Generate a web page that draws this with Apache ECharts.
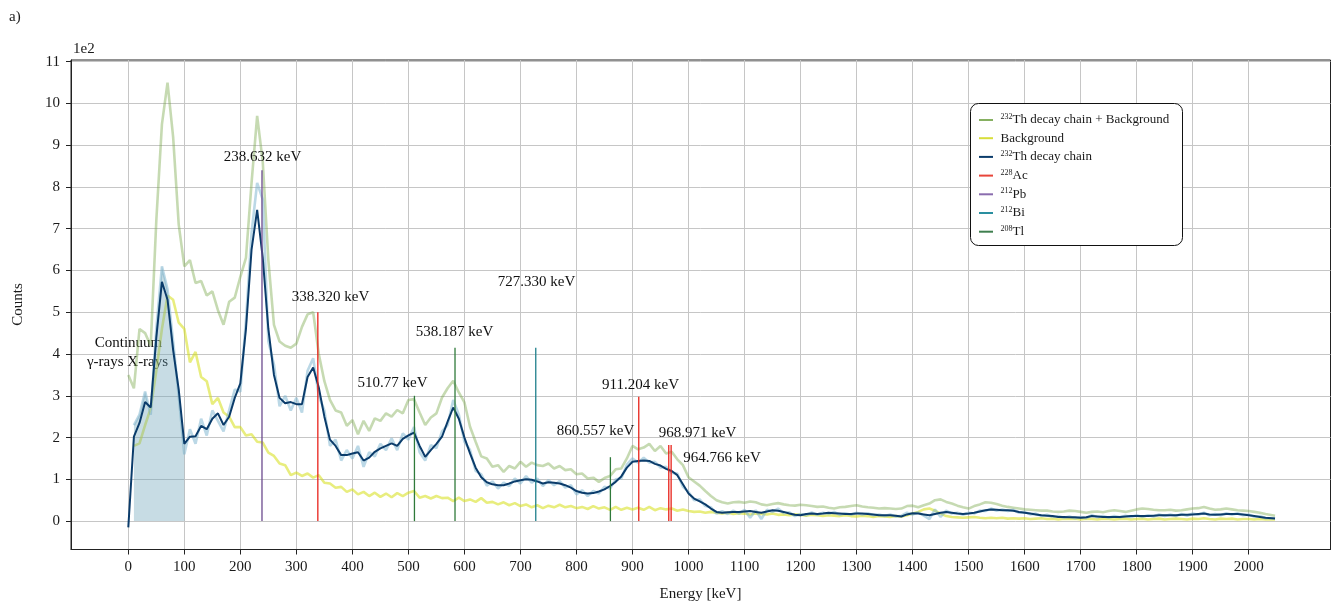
<!DOCTYPE html>
<html>
<head>
<meta charset="utf-8">
<title>232Th gamma spectrum</title>
<script src="https://cdn.jsdelivr.net/npm/echarts@6/dist/echarts.min.js"></script>
<style>
  html, body { margin: 0; padding: 0; background: #fff; }
  #chart { width: 1334px; height: 606px; }
</style>
</head>
<body>
<div id="chart"></div>
<script>
// Energy bins [keV]
const energy = [
  0, 10, 20, 30, 40, 50, 60, 70, 80, 90,
  100, 110, 120, 130, 140, 150, 160, 170, 180, 190,
  200, 210, 220, 230, 240, 250, 260, 270, 280, 290,
  300, 310, 320, 330, 340, 350, 360, 370, 380, 390,
  400, 410, 420, 430, 440, 450, 460, 470, 480, 490,
  500, 510, 520, 530, 540, 550, 560, 570, 580, 590,
  600, 610, 620, 630, 640, 650, 660, 670, 680, 690,
  700, 710, 720, 730, 740, 750, 760, 770, 780, 790,
  800, 810, 820, 830, 840, 850, 860, 870, 880, 890,
  900, 910, 920, 930, 940, 950, 960, 970, 980, 990,
  1000, 1010, 1020, 1030, 1040, 1050, 1060, 1070, 1080, 1090,
  1100, 1110, 1120, 1130, 1140, 1150, 1160, 1170, 1180, 1190,
  1200, 1210, 1220, 1230, 1240, 1250, 1260, 1270, 1280, 1290,
  1300, 1310, 1320, 1330, 1340, 1350, 1360, 1370, 1380, 1390,
  1400, 1410, 1420, 1430, 1440, 1450, 1460, 1470, 1480, 1490,
  1500, 1510, 1520, 1530, 1540, 1550, 1560, 1570, 1580, 1590,
  1600, 1610, 1620, 1630, 1640, 1650, 1660, 1670, 1680, 1690,
  1700, 1710, 1720, 1730, 1740, 1750, 1760, 1770, 1780, 1790,
  1800, 1810, 1820, 1830, 1840, 1850, 1860, 1870, 1880, 1890,
  1900, 1910, 1920, 1930, 1940, 1950, 1960, 1970, 1980, 1990,
  2000, 2010, 2020, 2030, 2047
];

// Counts (x100) — 232Th decay chain measured together with the background
const thPlusBackground = [
  3.50, 3.18, 4.60, 4.50, 4.20, 7.20, 9.50, 10.50, 9.20, 7.10,
  6.10, 6.25, 5.70, 5.75, 5.40, 5.50, 5.05, 4.70, 5.25, 5.35,
  5.85, 6.30, 8.10, 9.70, 8.60, 6.25, 4.70, 4.30, 4.20, 4.15,
  4.25, 4.65, 4.95, 5.00, 4.00, 3.35, 2.90, 2.65, 2.60, 2.28,
  2.42, 2.08, 2.40, 2.16, 2.46, 2.40, 2.58, 2.50, 2.66, 2.58,
  2.90, 2.92, 2.60, 2.30, 2.48, 2.58, 2.96, 3.18, 3.36, 3.08,
  2.84, 2.26, 1.90, 1.55, 1.50, 1.30, 1.34, 1.18, 1.32, 1.26,
  1.42, 1.30, 1.40, 1.34, 1.32, 1.38, 1.26, 1.32, 1.22, 1.24,
  1.12, 1.14, 1.02, 1.04, 0.94, 1.03, 1.08, 1.24, 1.26, 1.50,
  1.80, 1.72, 1.76, 1.85, 1.68, 1.80, 1.62, 1.66, 1.48, 1.34,
  1.05, 0.95, 0.85, 0.72, 0.60, 0.50, 0.45, 0.42, 0.45, 0.46,
  0.44, 0.47, 0.45, 0.40, 0.38, 0.41, 0.43, 0.40, 0.38, 0.37,
  0.39, 0.38, 0.36, 0.34, 0.35, 0.32, 0.30, 0.33, 0.34, 0.36,
  0.38, 0.35, 0.33, 0.32, 0.30, 0.31, 0.30, 0.29, 0.30, 0.36,
  0.37, 0.33, 0.38, 0.42, 0.50, 0.52, 0.46, 0.42, 0.37, 0.33,
  0.30, 0.36, 0.40, 0.45, 0.44, 0.41, 0.37, 0.34, 0.32, 0.30,
  0.28, 0.27, 0.26, 0.25, 0.25, 0.23, 0.22, 0.23, 0.25, 0.24,
  0.22, 0.20, 0.22, 0.23, 0.21, 0.24, 0.26, 0.24, 0.22, 0.25,
  0.28, 0.30, 0.29, 0.27, 0.26, 0.26, 0.27, 0.25, 0.26, 0.28,
  0.30, 0.31, 0.34, 0.30, 0.27, 0.28, 0.30, 0.28, 0.26, 0.25,
  0.24, 0.22, 0.20, 0.17, 0.13
];

// Counts (x100) — background only
const background = [
  null, 1.80, 1.86, 2.30, 2.70, 3.60, 4.60, 5.40, 5.30, 4.75,
  4.60, 3.80, 4.05, 3.45, 3.35, 2.80, 2.95, 2.60, 2.50, 2.25,
  2.25, 2.05, 2.08, 1.90, 1.88, 1.64, 1.56, 1.38, 1.34, 1.10,
  1.16, 1.08, 1.14, 1.04, 1.10, 0.92, 0.90, 0.80, 0.82, 0.70,
  0.76, 0.64, 0.70, 0.60, 0.68, 0.58, 0.66, 0.57, 0.67, 0.60,
  0.68, 0.72, 0.56, 0.60, 0.54, 0.60, 0.55, 0.56, 0.48, 0.56,
  0.48, 0.52, 0.46, 0.55, 0.44, 0.46, 0.40, 0.45, 0.38, 0.43,
  0.36, 0.40, 0.33, 0.38, 0.31, 0.37, 0.33, 0.39, 0.33, 0.36,
  0.31, 0.34, 0.29, 0.36, 0.30, 0.33, 0.27, 0.34, 0.27, 0.32,
  0.28, 0.32, 0.27, 0.34, 0.26, 0.31, 0.28, 0.30, 0.25, 0.28,
  0.24, 0.22, 0.23, 0.20, 0.22, 0.20, 0.18, 0.20, 0.17, 0.19,
  0.18, 0.16, 0.18, 0.17, 0.16, 0.18, 0.15, 0.16, 0.14, 0.16,
  0.15, 0.13, 0.15, 0.14, 0.12, 0.14, 0.13, 0.12, 0.14, 0.12,
  0.11, 0.13, 0.12, 0.10, 0.12, 0.11, 0.10, 0.12, 0.11, 0.14,
  0.18, 0.22, 0.28, 0.30, 0.25, 0.18, 0.12, 0.10, 0.09, 0.08,
  0.09, 0.10, 0.08, 0.07, 0.08, 0.07, 0.08, 0.06, 0.07, 0.06,
  0.07, 0.05, 0.06, 0.07, 0.05, 0.06, 0.04, 0.06, 0.05, 0.06,
  0.04, 0.06, 0.05, 0.04, 0.06, 0.05, 0.04, 0.05, 0.06, 0.04,
  0.05, 0.06, 0.04, 0.05, 0.06, 0.04, 0.05, 0.06, 0.05, 0.04,
  0.06, 0.05, 0.07, 0.05, 0.04, 0.06, 0.05, 0.06, 0.04, 0.05,
  0.05, 0.04, 0.05, 0.04, 0.04
];

// Counts (x100) — 232Th decay chain after background subtraction
const thDecayRaw = [
  null, 2.30, 2.55, 3.10, 2.55, 4.60, 6.10, 5.55, 4.30, 3.00,
  1.60, 2.20, 1.85, 2.45, 2.05, 2.65, 2.40, 2.15, 2.65, 3.15,
  3.10, 4.80, 6.90, 8.10, 7.70, 4.30, 3.75, 2.75, 3.00, 2.65,
  2.95, 2.60, 3.60, 3.90, 3.00, 2.65, 1.80, 1.95, 1.45, 1.70,
  1.50, 1.80, 1.30, 1.65, 1.55, 1.85, 1.70, 1.98, 1.70, 2.10,
  1.95, 2.25, 1.65, 1.45, 1.82, 1.75, 2.15, 2.30, 2.90, 2.55,
  1.90, 1.70, 1.20, 1.12, 0.85, 0.95, 0.78, 0.92, 0.84, 1.02,
  0.90, 1.08, 0.92, 1.02, 0.84, 0.98, 0.86, 0.96, 0.80, 0.86,
  0.64, 0.74, 0.60, 0.72, 0.66, 0.82, 0.78, 1.00, 1.02, 1.35,
  1.50, 1.40, 1.52, 1.40, 1.42, 1.28, 1.30, 1.15, 1.14, 0.82,
  0.70, 0.50, 0.52, 0.36, 0.33, 0.18, 0.24, 0.17, 0.25, 0.18,
  0.27, 0.08, 0.26, 0.05, 0.27, 0.22, 0.30, 0.19, 0.21, 0.12,
  0.17, 0.14, 0.21, 0.15, 0.20, 0.17, 0.22, 0.15, 0.19, 0.15,
  0.20, 0.16, 0.19, 0.14, 0.16, 0.12, 0.16, 0.11, 0.13, 0.20,
  0.16, 0.21, 0.13, 0.05, 0.28, 0.10, 0.25, 0.18, 0.20, 0.15,
  0.20, 0.18, 0.25, 0.24, 0.30, 0.25, 0.28, 0.24, 0.27, 0.20,
  0.22, 0.16, 0.18, 0.12, 0.15, 0.10, 0.12, 0.08, 0.11, 0.07,
  0.10, 0.07, 0.14, 0.09, 0.12, 0.08, 0.12, 0.09, 0.13, 0.10,
  0.14, 0.10, 0.14, 0.11, 0.16, 0.12, 0.16, 0.12, 0.17, 0.13,
  0.18, 0.15, 0.20, 0.14, 0.17, 0.14, 0.19, 0.15, 0.19, 0.14,
  0.16, 0.10, 0.12, 0.07, 0.07
];

// Counts (x100) — smoothed 232Th decay chain
const thDecaySmooth = [
  -0.15, 2.02, 2.35, 2.85, 2.72, 4.40, 5.73, 5.30, 4.10, 3.15,
  1.85, 2.02, 2.03, 2.28, 2.20, 2.45, 2.58, 2.30, 2.50, 2.95,
  3.30, 4.60, 6.50, 7.45, 6.30, 4.60, 3.50, 2.95, 2.82, 2.85,
  2.80, 2.80, 3.45, 3.68, 3.20, 2.50, 1.95, 1.80, 1.58, 1.58,
  1.62, 1.65, 1.45, 1.52, 1.66, 1.74, 1.80, 1.86, 1.80, 1.97,
  2.05, 2.12, 1.80, 1.54, 1.70, 1.85, 2.02, 2.38, 2.72, 2.45,
  2.00, 1.62, 1.28, 1.05, 0.93, 0.88, 0.86, 0.86, 0.90, 0.95,
  0.98, 1.00, 0.99, 0.95, 0.90, 0.93, 0.92, 0.90, 0.86, 0.80,
  0.72, 0.68, 0.66, 0.67, 0.71, 0.76, 0.84, 0.94, 1.07, 1.28,
  1.42, 1.44, 1.45, 1.44, 1.37, 1.33, 1.25, 1.20, 1.10, 0.88,
  0.66, 0.54, 0.47, 0.40, 0.30, 0.22, 0.20, 0.21, 0.22, 0.22,
  0.23, 0.24, 0.22, 0.20, 0.23, 0.26, 0.25, 0.22, 0.18, 0.15,
  0.14, 0.17, 0.18, 0.17, 0.18, 0.20, 0.19, 0.18, 0.17, 0.17,
  0.18, 0.18, 0.17, 0.16, 0.14, 0.14, 0.14, 0.13, 0.11, 0.16,
  0.19, 0.18, 0.16, 0.14, 0.17, 0.20, 0.22, 0.20, 0.18, 0.17,
  0.18, 0.20, 0.23, 0.26, 0.28, 0.27, 0.26, 0.26, 0.25, 0.22,
  0.20, 0.18, 0.16, 0.14, 0.13, 0.12, 0.10, 0.10, 0.09, 0.09,
  0.08, 0.09, 0.12, 0.11, 0.10, 0.10, 0.10, 0.10, 0.11, 0.12,
  0.12, 0.12, 0.12, 0.13, 0.14, 0.14, 0.14, 0.14, 0.15, 0.15,
  0.16, 0.17, 0.18, 0.16, 0.15, 0.16, 0.17, 0.17, 0.17, 0.16,
  0.14, 0.12, 0.10, 0.08, 0.06
];

// Continuum region (keV) shaded under the decay-chain spectrum
const continuumRange = [10, 100];

// Reference gamma lines
const lineEnergy  = [238.632, 338.320, 510.77, 583.187, 727.330, 860.557, 911.204, 964.766, 968.971];
const lineHeight  = [8.40, 5.00, 3.00, 4.15, 4.15, 1.53, 2.98, 1.82, 1.82];
const lineIsotope = ['212Pb', '228Ac', '208Tl', '208Tl', '212Bi', '208Tl', '228Ac', '228Ac', '228Ac'];

// Annotation texts and their anchor points [keV, counts x100]
const noteText = ['238.632 keV', '338.320 keV', '510.77 keV', '538.187 keV', '727.330 keV',
                  '860.557 keV', '911.204 keV', '968.971 keV', '964.766 keV'];
const noteE    = [239.6, 360.9, 471.6, 582.3, 728.7, 834.0, 914.3, 1016.0, 1059.8];
const noteV    = [8.71, 5.36, 3.30, 4.52, 5.72, 2.15, 3.26, 2.11, 1.51];
const regionText = ['Continuum', 'γ-rays X-rays'];
const regionE    = [0.4, -1.4];
const regionV    = [4.26, 3.81];

// Axis ticks
const xTicks = [0, 100, 200, 300, 400, 500, 600, 700, 800, 900, 1000,
                1100, 1200, 1300, 1400, 1500, 1600, 1700, 1800, 1900, 2000];
const yTicks = [0, 1, 2, 3, 4, 5, 6, 7, 8, 9, 10, 11];

// ---------------------------------------------------------------------------
const FONT = 'Liberation Serif';
const TEXT = '#1a1a1a';

const NAME_SUM = '232Th decay chain + Background';
const NAME_BG = 'Background';
const NAME_TH = '232Th decay chain';
const isotopeColor = { '228Ac': '#e8231b', '212Pb': '#6b4a8e', '212Bi': '#1f7f8c', '208Tl': '#2f7a3a' };
const legendColor = {
  [NAME_SUM]: '#86b061', [NAME_BG]: '#d8de3a', [NAME_TH]: '#0b3c6b',
  '228Ac': '#e8453a', '212Pb': '#8a6cae', '212Bi': '#2a8fa0', '208Tl': '#3f7f4f'
};
const legendOrder = [NAME_SUM, NAME_BG, NAME_TH, '228Ac', '212Pb', '212Bi', '208Tl'];

const pairs = arr => energy.map((e, i) => [e, arr[i]]);
const continuumData = energy
  .map((e, i) => [e, thDecayRaw[i]])
  .filter(p => p[0] >= continuumRange[0] && p[0] <= continuumRange[1]);

function legendLabel(name) {
  const m = name.match(/^(\d+)(.*)$/);
  return m ? '{sup|' + m[1] + '}{t|' + m[2] + '}' : '{t|' + name + '}';
}

function gammaSeries(iso) {
  const data = [];
  lineEnergy.forEach((e, i) => { if (lineIsotope[i] === iso) data.push([e, lineHeight[i]]); });
  return {
    type: 'custom', name: iso, z: 6,
    itemStyle: { color: isotopeColor[iso] },
    data: data,
    encode: { x: 0, y: 1 },
    renderItem: function (params, api) {
      const p0 = api.coord([api.value(0), 0]);
      const p1 = api.coord([api.value(0), api.value(1)]);
      return {
        type: 'line',
        shape: { x1: p0[0], y1: p0[1], x2: p1[0], y2: p1[1] },
        style: { stroke: isotopeColor[iso], lineWidth: 1.3 }
      };
    }
  };
}

function noteSeries(name, texts, es, vs, z) {
  return {
    type: 'scatter', name: name, z: z, symbolSize: 0, silent: true,
    itemStyle: { opacity: 1 },
    data: texts.map((t, i) => ({ name: t, value: [es[i], vs[i]] })),
    label: {
      show: true, position: 'inside', formatter: '{b}',
      fontFamily: FONT, fontSize: 15, color: '#111', opacity: 1
    }
  };
}

const chart = echarts.init(document.getElementById('chart'), null, { renderer: 'canvas' });

chart.setOption({
  animation: false,
  backgroundColor: '#ffffff',
  textStyle: { fontFamily: FONT, color: TEXT },
  grid: {
    left: 71, right: 3.5, top: 60, bottom: 56.5,
    show: true, borderColor: '#222', borderWidth: 1,
    outerBoundsMode: 'none'
  },
  xAxis: {
    type: 'value', min: -102.3, max: 2146,
    axisLine: { show: true, onZero: false, lineStyle: { color: '#222', width: 1 } },
    axisTick: { show: true, length: 5, lineStyle: { color: '#222' }, customValues: xTicks },
    axisLabel: {
      customValues: xTicks, color: TEXT, fontSize: 15, fontFamily: FONT, margin: 10,
      formatter: v => String(v)
    },
    splitLine: { show: true, lineStyle: { color: '#c6c6c6', width: 1 } }
  },
  yAxis: {
    type: 'value', min: -0.68, max: 11.04,
    axisLine: { show: true, onZero: false, lineStyle: { color: '#222', width: 1 } },
    axisTick: { show: true, length: 5, lineStyle: { color: '#222' }, customValues: yTicks },
    axisLabel: {
      customValues: yTicks, color: TEXT, fontSize: 15, fontFamily: FONT, margin: 11,
      formatter: v => String(v)
    },
    splitLine: { show: true, lineStyle: { color: '#c6c6c6', width: 1 } }
  },
  legend: {
    data: legendOrder.map(n => ({
      name: n,
      icon: 'path://M0,0 H14 V2 H0 Z',
      itemStyle: { color: legendColor[n] }
    })),
    orient: 'vertical', left: 979, top: 113, padding: 0,
    itemWidth: 19, itemHeight: 2, itemGap: 5.2,
    selectedMode: false, z: 20,
    formatter: legendLabel,
    textStyle: {
      fontFamily: FONT, color: TEXT,
      rich: {
        sup: { fontFamily: FONT, fontSize: 8, lineHeight: 14, verticalAlign: 'top', color: TEXT },
        t: { fontFamily: FONT, fontSize: 13, lineHeight: 14, color: TEXT }
      }
    }
  },
  graphic: [
    { type: 'rect', z: 15, shape: { x: 970.5, y: 103.5, width: 212, height: 142, r: 8 },
      style: { fill: '#ffffff', stroke: '#111', lineWidth: 1 } },
    { type: 'text', x: 9, y: 17.5,
      style: { text: 'a)', font: '15px "Liberation Serif"', fill: TEXT, textVerticalAlign: 'middle' } },
    { type: 'text', x: 73, y: 49.5,
      style: { text: '1e2', font: '15px "Liberation Serif"', fill: TEXT, textVerticalAlign: 'middle' } },
    { type: 'text', x: 18, y: 304.5, rotation: Math.PI / 2,
      style: { text: 'Counts', font: '15px "Liberation Serif"', fill: TEXT, textAlign: 'center', textVerticalAlign: 'middle' } },
    { type: 'text', x: 700.5, y: 594,
      style: { text: 'Energy [keV]', font: '15px "Liberation Serif"', fill: TEXT, textAlign: 'center', textVerticalAlign: 'middle' } }
  ],
  series: [
    noteSeries('region-notes', regionText, regionE, regionV, 1),
    {
      type: 'line', name: NAME_SUM, z: 2, showSymbol: false, symbol: 'none',
      data: pairs(thPlusBackground),
      lineStyle: { color: 'rgba(120,168,72,0.42)', width: 2.6 },
      itemStyle: { color: 'rgba(120,168,72,0.42)' }
    },
    {
      type: 'line', name: NAME_BG, z: 2, showSymbol: false, symbol: 'none',
      data: pairs(background),
      lineStyle: { color: 'rgba(214,222,20,0.55)', width: 2.6 },
      itemStyle: { color: 'rgba(214,222,20,0.55)' }
    },
    {
      type: 'line', name: 'raw', z: 3, showSymbol: false, symbol: 'none',
      data: pairs(thDecayRaw),
      lineStyle: { color: 'rgba(120,178,205,0.5)', width: 2.6 }
    },
    {
      type: 'line', name: 'continuum', z: 4, showSymbol: false, symbol: 'none',
      data: continuumData,
      lineStyle: { width: 0, opacity: 0 },
      areaStyle: { color: 'rgba(110,165,185,0.55)', origin: 0 }
    },
    {
      type: 'line', name: NAME_TH, z: 5, showSymbol: false, symbol: 'none',
      data: pairs(thDecaySmooth),
      lineStyle: { color: '#0b3c6b', width: 2 },
      itemStyle: { color: '#0b3c6b' }
    },
    gammaSeries('228Ac'),
    gammaSeries('212Pb'),
    gammaSeries('212Bi'),
    gammaSeries('208Tl'),
    noteSeries('line-notes', noteText, noteE, noteV, 7)
  ]
});
</script>
</body>
</html>
